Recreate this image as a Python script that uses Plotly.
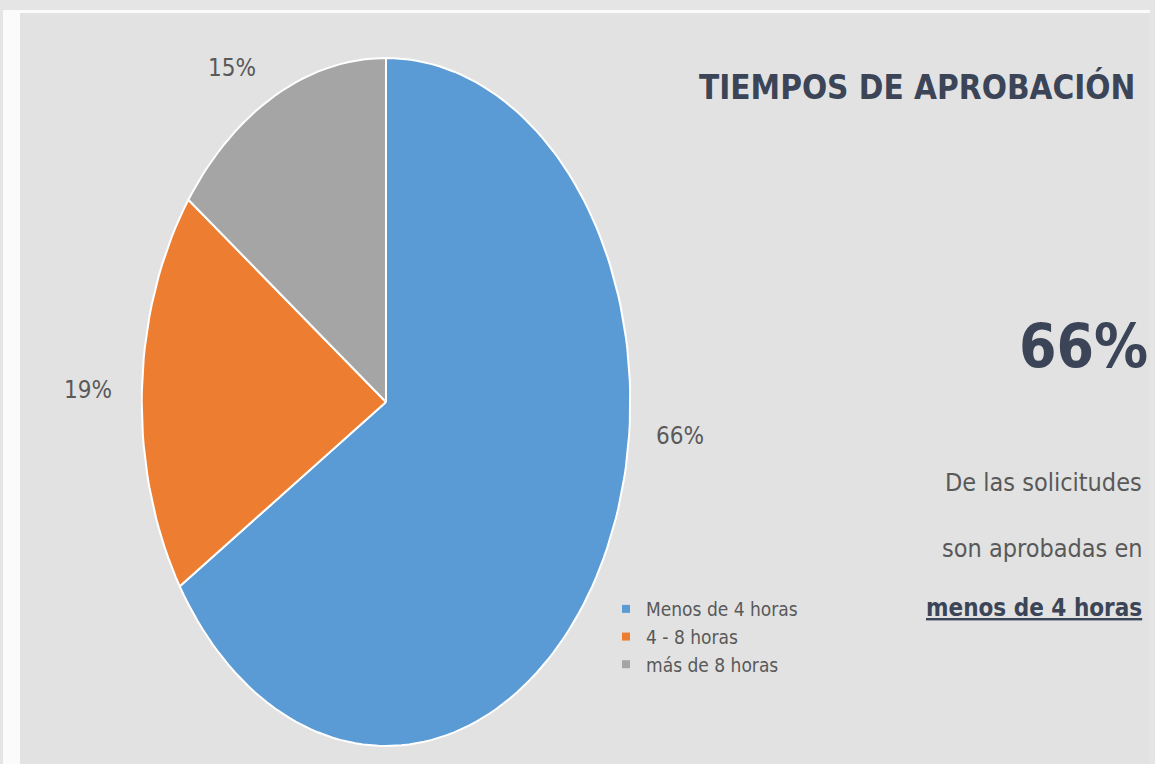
import math
import plotly.graph_objects as go

categories = ["Menos de 4 horas", "4 - 8 horas", "más de 8 horas"]
values = [66, 19, 15]
colors = ["#5b9bd5", "#ed7d31", "#a5a5a5"]
label_texts = [f"{v}%" for v in values]

title_text = "TIEMPOS DE APROBACIÓN"
highlight_text = "66%"
caption_lines = ["De las solicitudes", "son aprobadas en"]
caption_bold = "menos de 4 horas"

W, H = 1155, 764
FONT = "Liberation Sans Narrow, DejaVu Sans Condensed, Arial Narrow, sans-serif"
GREY_TXT = "#595959"
DARK_TXT = "#3b4557"

fig = go.Figure()

# Slices drawn in unit-circle data space; the axis domains stretch it to the ellipse.
total = sum(values)
cum = 0.0
for cat, val, col in zip(categories, values, colors):
    a0 = cum / total * 2 * math.pi
    a1 = (cum + val) / total * 2 * math.pi
    n = max(2, int(200 * val / total))
    xs, ys = [0.0], [0.0]
    for i in range(n + 1):
        t = a0 + (a1 - a0) * i / n
        xs.append(math.sin(t))
        ys.append(math.cos(t))
    xs.append(0.0)
    ys.append(0.0)
    fig.add_trace(go.Scatter(
        x=xs, y=ys, mode="lines", fill="toself", fillcolor=col,
        line=dict(color="white", width=2), name=cat, showlegend=False,
        hoverinfo="text", text=f"{cat}: {val}%", hoveron="fills",
    ))
    cum += val

# Legend entries
for cat, col in zip(categories, colors):
    fig.add_trace(go.Scatter(
        x=[None], y=[None], mode="markers", name=cat,
        marker=dict(symbol="square", size=8, color=col),
    ))

# Slice labels (positions in paper space)
label_pos = [(680, 436), (88, 390), (232, 68)]
annotations = []
for txt, (px, py) in zip(label_texts, label_pos):
    annotations.append(dict(
        x=px / W, y=1 - py / H, xref="paper", yref="paper", text=txt,
        showarrow=False, font=dict(family=FONT, size=24, color=GREY_TXT),
        xanchor="center", yanchor="middle",
    ))

annotations.append(dict(
    x=1137 / W, y=1 - 87 / H, xref="paper", yref="paper", text=f"<b>{title_text}</b>",
    showarrow=False, font=dict(family=FONT, size=33, color=DARK_TXT),
    xanchor="right", yanchor="middle",
))
annotations.append(dict(
    x=1150 / W, y=1 - 346 / H, xref="paper", yref="paper", text=f"<b>{highlight_text}</b>",
    showarrow=False, font=dict(family=FONT, size=60, color=DARK_TXT),
    xanchor="right", yanchor="middle",
))
for line, py in zip(caption_lines, [482, 548]):
    annotations.append(dict(
        x=1144 / W, y=1 - py / H, xref="paper", yref="paper", text=line,
        showarrow=False, font=dict(family=FONT, size=25, color=GREY_TXT),
        xanchor="right", yanchor="middle",
    ))
annotations.append(dict(
    x=1144 / W, y=1 - 608 / H, xref="paper", yref="paper", text=f"<b><u>{caption_bold}</u></b>",
    showarrow=False, font=dict(family=FONT, size=24, color=DARK_TXT),
    xanchor="right", yanchor="middle",
))

shapes = [
    dict(type="rect", xref="paper", yref="paper", x0=3 / W, x1=1150 / W, y0=0, y1=1 - 10 / H,
         fillcolor="#fbfbfb", line=dict(width=0), layer="below"),
    dict(type="rect", xref="paper", yref="paper", x0=20 / W, x1=1150 / W, y0=0, y1=1 - 13 / H,
         fillcolor="#e2e2e2", line=dict(width=0), layer="below"),
]

cx, cy, rx, ry = 386, 402, 245, 345
fig.update_layout(
    width=W, height=H, autosize=False,
    margin=dict(l=0, r=0, t=0, b=0),
    paper_bgcolor="#e5e5e5", plot_bgcolor="rgba(0,0,0,0)",
    xaxis=dict(domain=[(cx - rx) / W, (cx + rx) / W], range=[-1.003, 1.003], visible=False, fixedrange=True),
    yaxis=dict(domain=[1 - (cy + ry) / H, 1 - (cy - ry) / H], range=[-1.003, 1.003], visible=False, fixedrange=True),
    legend=dict(x=606 / W, y=1 - 590 / H, xanchor="left", yanchor="top",
                bgcolor="rgba(0,0,0,0)", font=dict(family=FONT, size=19, color=GREY_TXT),
                itemwidth=30, tracegroupgap=0),
    annotations=annotations, shapes=shapes,
    hovermode="closest",
)

fig.write_html(
    "out.html",
    config={"displayModeBar": False},
    post_script="document.body.style.margin='0';document.body.style.overflow='hidden';",
)
